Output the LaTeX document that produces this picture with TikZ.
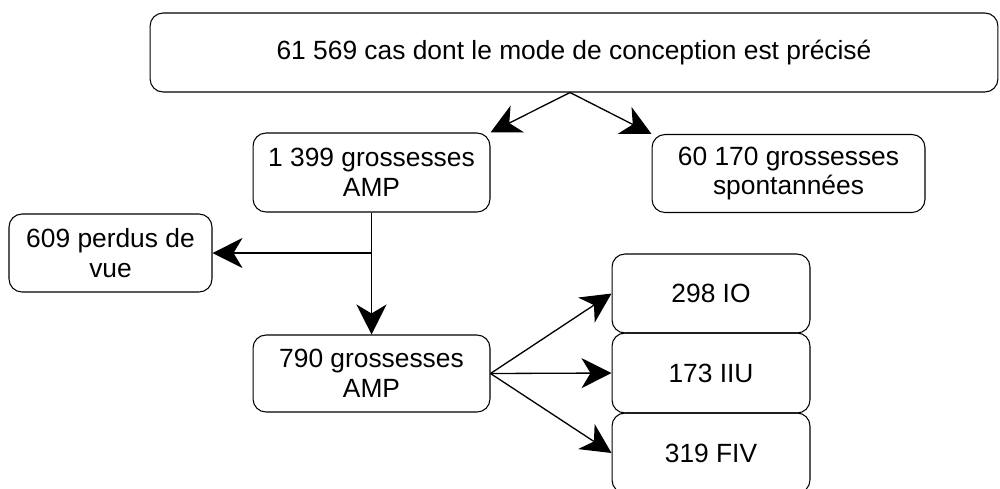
\documentclass[tikz,border=0pt]{standalone}
\usepackage{fontspec}
\setmainfont{Liberation Sans}
\usetikzlibrary{arrows.meta}

\begin{document}
\begin{tikzpicture}[x=0.02cm, y=-0.02cm,
		box/.style={draw, rounded corners=0.26cm, line width=0.6pt, align=center, inner sep=0pt, font=\fontsize{15}{17}\selectfont},
		arr/.style={-{Stealth[length=0.6cm, width=0.6cm, inset=0.18cm]}, line width=0.75pt}]
		\useasboundingbox (0, 0) rectangle (1000, 488);

		\node[box, minimum width=16.96cm, minimum height=1.58cm]	(total) at (574, 52.5) {61 569 cas dont le mode de conception est précisé};
		\node[box, minimum width=4.74cm, minimum height=1.58cm]	(amp) at (371.5, 172.5) {1 399 grossesses\\AMP};
		\node[box, minimum width=5.46cm, minimum height=1.56cm]	(spont) at (788.5, 173.5) {60 170 grossesses\\spontannées};
		\node[box, minimum width=4.06cm, minimum height=1.56cm]	(perdus) at (110.5, 253) {609 perdus de\\vue};
		\node[box, minimum width=4.74cm, minimum height=1.54cm]	(ampsuivi) at (371.5, 373.5) {790 grossesses\\AMP};
		\node[box, minimum width=3.96cm, minimum height=1.58cm]	(io) at (711, 293.5) {298 IO};
		\node[box, minimum width=3.96cm, minimum height=1.6cm]	(iiu) at (711, 373) {173 IIU};
		\node[box, minimum width=3.96cm, minimum height=1.6cm]	(fiv) at (711, 453) {319 FIV};

		\coordinate (fork) at (570, 92.5);
		\coordinate (branch) at (amp.south |- perdus.east);

		\draw[arr]	(fork) -- (amp.north east);
		\draw[arr]	(fork) -- (spont.north west);
		\draw[arr]	(amp.south) -- (ampsuivi.north);
		\draw[arr]	(branch) -- (perdus.east);
		\draw[arr]	(ampsuivi.east) -- (io.west);
		\draw[arr]	(ampsuivi.east) -- (iiu.west);
		\draw[arr]	(ampsuivi.east) -- (fiv.west);
	\end{tikzpicture}
\end{document}
